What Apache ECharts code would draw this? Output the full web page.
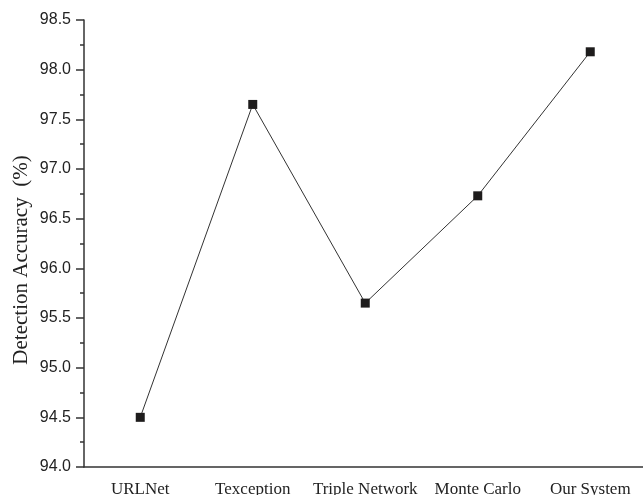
<!DOCTYPE html>
<html>
<head>
<meta charset="utf-8">
<script src="https://cdn.jsdelivr.net/npm/echarts@6/dist/echarts.min.js"></script>
<style>html,body{margin:0;padding:0;background:#fff;}#c{width:643px;height:495px;}</style>
</head>
<body>
<div id="c"></div>
<script>
const categories = ["URLNet", "Texception", "Triple Network", "Monte Carlo", "Our System"];
const accuracy = [94.5, 97.65, 95.65, 96.73, 98.18];
const yTicks = { min: 94.0, max: 98.5, step: 0.5 };

const chart = echarts.init(document.getElementById('c'));
chart.setOption({
  animation: false,
  backgroundColor: '#fff',
  grid: { left: 84, top: 20, width: 562.5, bottom: 28, containLabel: false, outerBoundsMode: 'none' },
  xAxis: [{
    type: 'category',
    data: categories,
    boundaryGap: true,
    axisLine: { lineStyle: { color: '#333', width: 1.5 } },
    axisTick: { alignWithLabel: true, length: 8, lineStyle: { color: '#333', width: 1.5 } },
    axisLabel: { color: '#222', fontFamily: 'Liberation Serif', fontSize: 17, margin: 14, interval: 0 },
    splitLine: { show: false }
  }, {
    type: 'category',
    data: categories,
    boundaryGap: true,
    position: 'bottom',
    axisLine: { show: false },
    axisTick: { alignWithLabel: false, length: 4, lineStyle: { color: '#333', width: 1.5 } },
    axisLabel: { show: false },
    splitLine: { show: false }
  }],
  yAxis: {
    type: 'value',
    min: yTicks.min, max: yTicks.max, interval: yTicks.step,
    name: 'Detection Accuracy  (%)',
    nameLocation: 'middle',
    nameGap: 52,
    nameMoveOverlap: false,
    nameTextStyle: { color: '#222', fontFamily: 'Liberation Serif', fontSize: 21, padding: [0, 33, 0, 0] },
    axisLine: { show: true, lineStyle: { color: '#333', width: 1.5 } },
    axisTick: { show: true, length: 8, lineStyle: { color: '#333', width: 1.5 } },
    minorTick: { show: true, splitNumber: 2, length: 4, lineStyle: { color: '#333', width: 1.5 } },
    axisLabel: { color: '#222', fontFamily: 'Liberation Sans', fontSize: 16, margin: 13,
      formatter: v => v.toFixed(1) },
    splitLine: { show: false }
  },
  series: [{
    type: 'line',
    data: accuracy,
    symbol: 'rect',
    symbolSize: 9,
    itemStyle: { color: '#1e1c1c' },
    lineStyle: { color: '#333', width: 1 },
    z: 3
  }]
});
</script>
</body>
</html>
